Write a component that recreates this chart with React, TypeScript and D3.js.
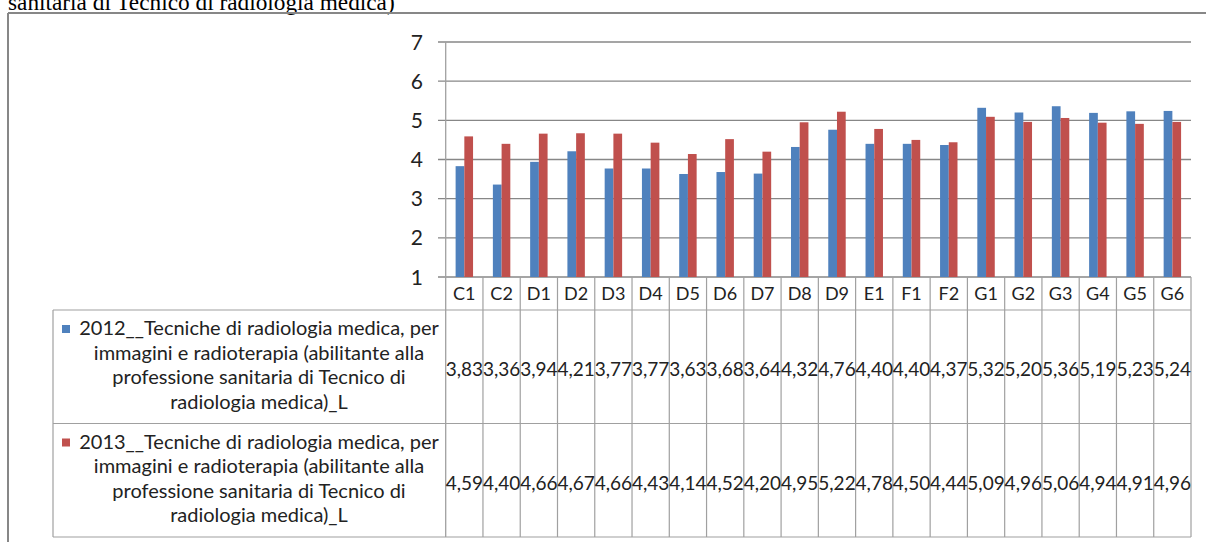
import React from 'react';
import * as d3 from 'd3';

// Categories and values
const categories = ['C1', 'C2', 'D1', 'D2', 'D3', 'D4', 'D5', 'D6', 'D7', 'D8', 'D9', 'E1', 'F1', 'F2', 'G1', 'G2', 'G3', 'G4', 'G5', 'G6'];
const values2012 = [3.83, 3.36, 3.94, 4.21, 3.77, 3.77, 3.63, 3.68, 3.64, 4.32, 4.76, 4.40, 4.40, 4.37, 5.32, 5.20, 5.36, 5.19, 5.23, 5.24];
const values2013 = [4.59, 4.40, 4.66, 4.67, 4.66, 4.43, 4.14, 4.52, 4.20, 4.95, 5.22, 4.78, 4.50, 4.44, 5.09, 4.96, 5.06, 4.94, 4.91, 4.96];
const yTicks = [1, 2, 3, 4, 5, 6, 7];
const seriesLabelLines = [
  'Tecniche di radiologia medica, per',
  'immagini e radioterapia (abilitante alla',
  'professione sanitaria di Tecnico di',
  'radiologia medica)_L',
];
const series = [
  { year: '2012', values: values2012, color: '#4F81BD' },
  { year: '2013', values: values2013, color: '#C0504D' },
];

const W = 1206;
const H = 542;
const FONT = 'Lato, "Open Sans", sans-serif';
const GRID = '#878787';
const TABLE = '#a0a0a0';

export default function App() {
  const plotLeft = 445.7;
  const plotRight = 1191;
  const x = d3.scaleBand<string>().domain(categories).range([plotLeft, plotRight]).padding(0);
  const y = d3.scaleLinear().domain([1, 7]).range([277, 42]);
  const bw = x.bandwidth() * 0.234;
  const fmt = (v: number) => v.toFixed(2).replace('.', ',');

  const catBottom = 310;
  const rowH = 113.5;
  const tableLeft = 53;

  return (
    <svg width={W} height={H} style={{ position: 'absolute', left: 0, top: 0, background: '#fff' }}>
      {/* cropped caption from the page above */}
      <text x={8} y={10} fontFamily='"Liberation Serif", "Times New Roman", serif' fontSize={23.3} fill="#000">
        sanitaria di Tecnico di radiologia medica)
      </text>

      {/* chart frame */}
      <line x1={8} x2={W} y1={13} y2={13} stroke={GRID} strokeWidth={2} />
      <line x1={8} x2={8} y1={13} y2={H} stroke={GRID} strokeWidth={2} />

      {/* gridlines and y labels */}
      {yTicks.map(t => (
        <g key={t}>
          <line x1={438} x2={plotRight} y1={y(t)} y2={y(t)} stroke={GRID} strokeWidth={1.3} />
          <text x={423} y={y(t)} dy="0.36em" textAnchor="end" fontFamily={FONT} fontSize={21} fill="#222">
            {t}
          </text>
        </g>
      ))}

      {/* bars */}
      {categories.map((c, i) => {
        const cx = (x(c) as number) + x.bandwidth() / 2;
        return (
          <g key={c}>
            {series.map((s, k) => (
              <rect
                key={s.year}
                x={cx - bw + k * bw}
                y={y(s.values[i])}
                width={bw}
                height={y(1) - y(s.values[i])}
                fill={s.color}
              />
            ))}
          </g>
        );
      })}

      {/* axis line */}
      <line x1={plotLeft} x2={plotLeft} y1={y(7)} y2={H - 5} stroke={TABLE} strokeWidth={1.3} />

      {/* category row */}
      {categories.map(c => (
        <g key={c}>
          <line x1={(x(c) as number) + x.bandwidth()} x2={(x(c) as number) + x.bandwidth()} y1={y(1)} y2={catBottom + 2 * rowH} stroke={TABLE} strokeWidth={1.2} />
          <text x={(x(c) as number) + x.bandwidth() / 2} y={300} textAnchor="middle" fontFamily={FONT} fontSize={18} fill="#222">
            {c}
          </text>
        </g>
      ))}

      {/* data table */}
      {[0, 1, 2].map(r => (
        <line key={r} x1={tableLeft} x2={plotRight} y1={catBottom + r * rowH} y2={catBottom + r * rowH} stroke={TABLE} strokeWidth={1.2} />
      ))}
      <line x1={tableLeft} x2={tableLeft} y1={catBottom} y2={catBottom + 2 * rowH} stroke={TABLE} strokeWidth={1.2} />

      {series.map((s, r) => {
        const top = catBottom + r * rowH;
        return (
          <g key={s.year}>
            <rect x={62} y={top + 15} width={8} height={8} fill={s.color} />
            {seriesLabelLines.map((l, j) => (
              <text
                key={j}
                x={259}
                y={top + 25 + j * 24.5}
                textAnchor="middle"
                fontFamily={FONT}
                fontSize={20}
                fill="#222"
              >
                {j === 0 ? `${s.year}__${l}` : l}
              </text>
            ))}
            {categories.map((c, i) => (
              <text
                key={c}
                x={(x(c) as number) + x.bandwidth() / 2}
                y={top + 66}
                textAnchor="middle"
                fontFamily={FONT}
                fontSize={19}
                fill="#222"
              >
                {fmt(s.values[i])}
              </text>
            ))}
          </g>
        );
      })}
    </svg>
  );
}
